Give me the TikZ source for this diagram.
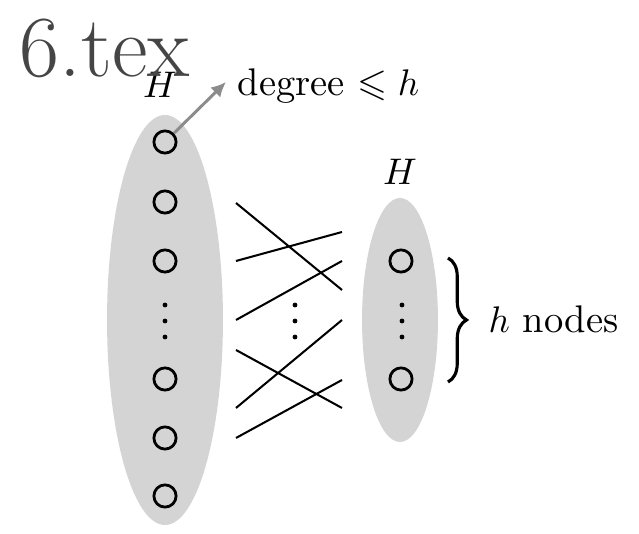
\documentclass[tikz,border=0pt]{standalone}
\usepackage{fontspec}
\usepackage{amssymb}
\usetikzlibrary{shapes.geometric,decorations.pathreplacing,arrows.meta}
\definecolor{blobfill}{HTML}{D4D4D4}
\definecolor{arrowgray}{HTML}{8C8C8C}
\definecolor{titlegray}{HTML}{454545}
\begin{document}
\begin{tikzpicture}[x=0.27pt,y=-0.27pt,
  blob/.style={ellipse,fill=blobfill,draw=none,inner sep=0pt},
  vert/.style={circle,draw=black,line width=0.75pt,minimum size=6pt,inner sep=0pt},
  edge/.style={line width=0.55pt,black},
  vdot/.style={circle,fill=black,inner sep=0pt,minimum size=1.3pt},
  lab/.style={inner sep=0pt,font=\fontsize{10.4}{12.5}\selectfont}]
\useasboundingbox (0,0) rectangle (639,534);
% blobs
\node[blob,minimum width=31.3pt,minimum height=110.7pt] (L) at (165,320) {};
\node[blob,minimum width=20.5pt,minimum height=65.9pt] (R) at (400,320) {};
% vertices
\foreach \n/\y in {l1/142,l2/202,l3/261,l4/379,l5/438,l6/496}
  \node[vert] (\n) at (165,\y) {};
\foreach \n/\y in {r1/261,r2/379}
  \node[vert] (\n) at (401,\y) {};
% vertical dots
\foreach \x/\p in {165/ld,295/md,402/rd}{
  \node[vdot] (\p1) at (\x,305) {};
  \node[vdot] (\p2) at (\x,321) {};
  \node[vdot] (\p3) at (\x,337) {};
}
% edge endpoints
\coordinate (a1) at (236,203); \coordinate (b1) at (342,290);
\coordinate (a2) at (236,261); \coordinate (b2) at (342,232);
\coordinate (a3) at (236,320); \coordinate (b3) at (342,261);
\coordinate (a4) at (236,350); \coordinate (b4) at (342,408);
\coordinate (a5) at (236,408); \coordinate (b5) at (342,320);
\coordinate (a6) at (236,438); \coordinate (b6) at (342,380);
\foreach \i in {1,...,6} \draw[edge] (a\i) -- (b\i);
% labels
\node[lab,anchor=base] (HL) at (160,98) {$H$};
\node[lab,anchor=base] (HR) at (400,185) {$H$};
\node[lab,anchor=base west] (deg) at (237,96) {degree $\leqslant h$};
\node[lab,anchor=base west] (hn) at (488,333) {$h$ nodes};
% arrow
\coordinate (tip) at (226,82);
\draw[arrowgray,line width=0.8pt,-{Latex[length=4pt,width=3.8pt]}] (l1) -- (tip);
% brace
\coordinate (bt) at (448,258);
\coordinate (bb) at (448,382);
\draw[line width=0.85pt,decorate,decoration={brace,amplitude=5pt}] (bt) -- (bb);
% title
\node[inner sep=0pt,anchor=base west,text=titlegray,font=\fontsize{23.5}{28}\selectfont] (title) at (19,77) {6.tex};
\end{tikzpicture}
\end{document}
